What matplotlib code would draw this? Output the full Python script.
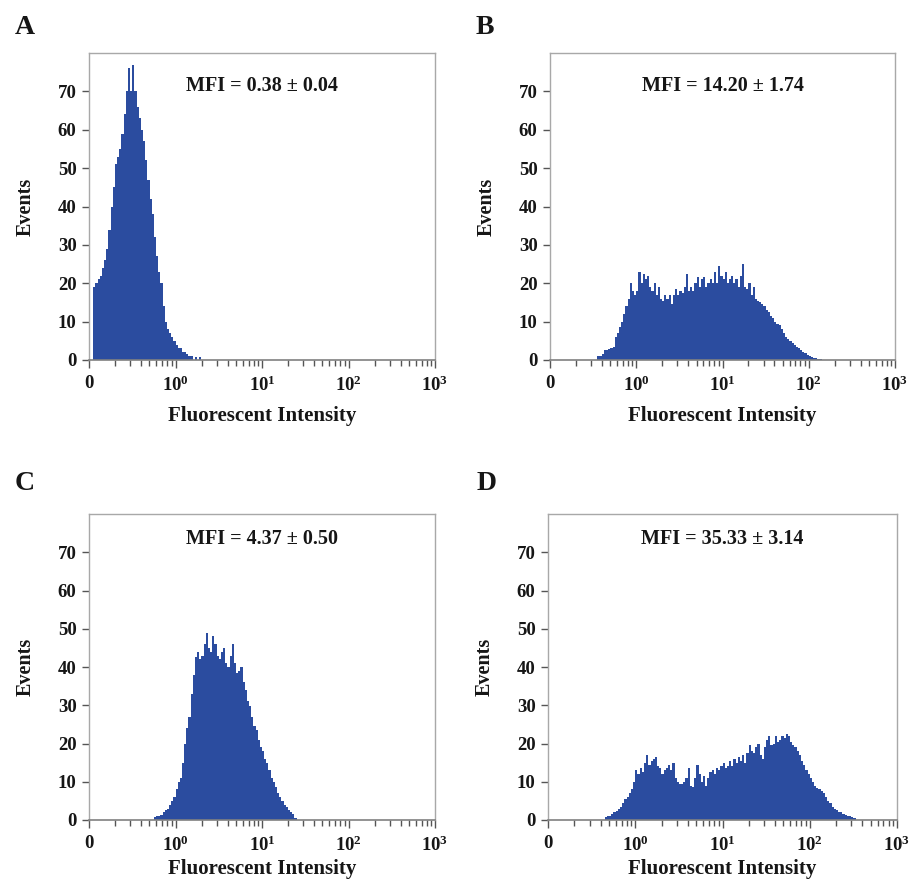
import numpy as np
import matplotlib
matplotlib.use("Agg")
import matplotlib.pyplot as plt
from matplotlib.ticker import FixedLocator, LogLocator, NullFormatter

plt.rcParams['font.family'] = ['Liberation Serif', 'DejaVu Serif']
plt.rcParams['font.weight'] = 'bold'
plt.rcParams['axes.labelweight'] = 'bold'
plt.rcParams['mathtext.fontset'] = 'custom'
plt.rcParams['mathtext.rm'] = 'Liberation Serif:bold'
plt.rcParams['mathtext.it'] = 'Liberation Serif:bold'
plt.rcParams['mathtext.bf'] = 'Liberation Serif:bold'
plt.rcParams['mathtext.default'] = 'rm'

# histogram bins: width 0.025 decade, start given as log10 of first edge
BIN_STEP = 0.025

a_start = -0.95
a_counts = [19, 20, 21, 22, 24, 26, 29, 34, 40, 45, 51, 53, 55, 59, 64, 70, 76, 70, 77, 70,
            66, 63, 60, 57, 52, 47, 42, 38, 32, 27, 23, 20, 14, 10, 8, 7, 6, 5, 4, 3,
            3, 2, 2, 1.5, 1, 1, 0, 0.7, 0, 0.8]

b_start = -0.45
b_counts = [1, 1, 1.5, 2.5, 2.6, 2.8, 3, 3.5, 6, 7, 8.5, 10, 12, 14, 16, 20, 18, 17, 18, 23,
            20, 22.5, 21, 22, 19, 18, 20, 17, 19, 16, 15.5, 17, 16, 17, 14.5, 17, 18.5, 17, 18, 17.5,
            19, 22.5, 18, 19, 18, 20, 21.5, 19, 21, 21.5, 19, 20, 21, 20, 23, 20, 24.5, 22, 21, 23,
            20, 21, 22, 20, 21, 19, 22, 25, 19, 18.5, 20, 17, 19, 16, 15.5, 15, 14.5, 14, 13, 12.5,
            11.5, 11, 10, 9.5, 9, 8, 7, 6, 5.5, 5, 4.5, 4, 3.5, 3, 2.5, 2, 1.8, 1.3, 1, 0.8,
            0.5, 0.5, 0.3, 0.3]

c_start = -0.25
c_counts = [0.8, 1, 1, 1.2, 2, 2.6, 3, 4, 5, 6, 8, 10, 11, 15, 20, 24, 27, 33, 38, 42.5,
            44, 42, 43, 46, 49, 45, 44, 48, 46, 43, 42, 44, 45, 41, 40, 43, 46, 41, 38.5, 39,
            40, 36, 34, 31, 29.7, 27, 24.5, 23.5, 21, 19, 18, 16, 15, 13, 11, 10, 8.5, 7, 6, 5,
            4, 3.4, 2.5, 2, 1.5, 0.6]

d_start = -0.35
d_counts = [0.8, 1, 1, 1.5, 2, 2.3, 2.8, 3.5, 4.5, 5.5, 6, 7, 8, 10, 13, 12, 13.5, 12.5, 15, 17,
            14.5, 15.5, 16, 16.5, 14, 13.5, 12, 13, 13.5, 14.5, 13, 15, 11, 10, 9.5, 9.5, 10, 11, 13.5, 9,
            8.7, 11, 14.5, 12, 10, 11.5, 9, 11, 12.5, 13, 12, 13.5, 13, 14, 15, 13.5, 14, 15.5, 14, 16,
            15, 16.5, 15.5, 17, 15, 17.5, 19.6, 18, 17.5, 19, 20, 17, 16, 19, 21, 22, 19.5, 20, 22, 20.3,
            21, 22, 21.5, 22.5, 22, 20.5, 19.6, 19, 18, 17, 15.5, 14.4, 13, 12, 11, 10, 9, 8.4, 8, 7.5,
            7, 6, 5, 4.5, 3.5, 3, 2.5, 2, 2, 1.5, 1.2, 1, 1, 0.8, 0.5]

panel_letters = ['A', 'B', 'C', 'D']
mfi_texts = ['MFI = 0.38 \u00b1 0.04', 'MFI = 14.20 \u00b1 1.74',
             'MFI = 4.37 \u00b1 0.50', 'MFI = 35.33 \u00b1 3.14']
x_tick_vals = [0.1, 1, 10, 100, 1000]
x_tick_labels = ['0', r'$10^0$', r'$10^1$', r'$10^2$', r'$10^3$']
y_tick_vals = [0, 10, 20, 30, 40, 50, 60, 70]

panels = [(a_start, a_counts), (b_start, b_counts), (c_start, c_counts), (d_start, d_counts)]

W, H = 913, 883
# axes boxes in pixels: left, top, right, bottom
boxes = [(89, 53, 435, 360), (550, 53, 895, 360), (89, 514, 435, 820), (548, 514, 897, 820)]
mfi_y = [71.3, 71.3, 73.4, 73.4]
xlabel_pad = [8, 8, 3, 3]
letter_pos = [(25, 27), (485, 27), (25, 483), (487, 483)]

fill_col = '#2b4c9f'
frame_col = '#a8a8a8'
txt_col = '#161616'

fig = plt.figure(figsize=(W / 100, H / 100), dpi=100)

for i, (start, counts) in enumerate(panels):
    l, t, r, b = boxes[i]
    ax = fig.add_axes([l / W, 1 - b / H, (r - l) / W, (b - t) / H])
    edges = 10 ** (start + BIN_STEP * np.arange(len(counts) + 1))
    ax.stairs(counts, edges, fill=True, color=fill_col, linewidth=0)

    ax.set_xscale('log')
    ax.set_xlim(0.1, 1000)
    ax.set_ylim(0, 80)

    ax.xaxis.set_major_locator(FixedLocator(x_tick_vals))
    ax.set_xticklabels(x_tick_labels)
    ax.xaxis.set_minor_locator(LogLocator(base=10, subs=np.arange(2, 10)))
    ax.xaxis.set_minor_formatter(NullFormatter())
    ax.set_yticks(y_tick_vals)

    for s in ['top', 'right', 'left']:
        ax.spines[s].set_color(frame_col)
        ax.spines[s].set_linewidth(1.0)
    ax.spines['bottom'].set_color('#808080')
    ax.spines['bottom'].set_linewidth(1.2)

    ax.tick_params(axis='y', direction='out', length=5, width=1, color='#555555',
                   labelsize=13.5, labelcolor=txt_col, pad=4)
    ax.tick_params(axis='x', which='major', direction='out', length=6, width=1,
                   color='#555555', labelsize=13.5, labelcolor=txt_col, pad=5)
    ax.tick_params(axis='x', which='minor', direction='out', length=4, width=1,
                   color='#555555')

    ax.set_ylabel('Events', fontsize=14.5, fontweight='bold', color=txt_col, labelpad=16)
    ax.set_xlabel('Fluorescent Intensity', fontsize=15, fontweight='bold', color=txt_col,
                  labelpad=xlabel_pad[i])

    ax.text(0.5, mfi_y[i], mfi_texts[i], transform=ax.get_yaxis_transform(),
            ha='center', va='center', fontsize=14.5, fontweight='bold', color=txt_col)

    lx, ly = letter_pos[i]
    fig.text(lx / W, 1 - ly / H, panel_letters[i], ha='center', va='center',
             fontsize=20, fontweight='bold', color=txt_col)

fig.savefig('out.png', dpi=100)
